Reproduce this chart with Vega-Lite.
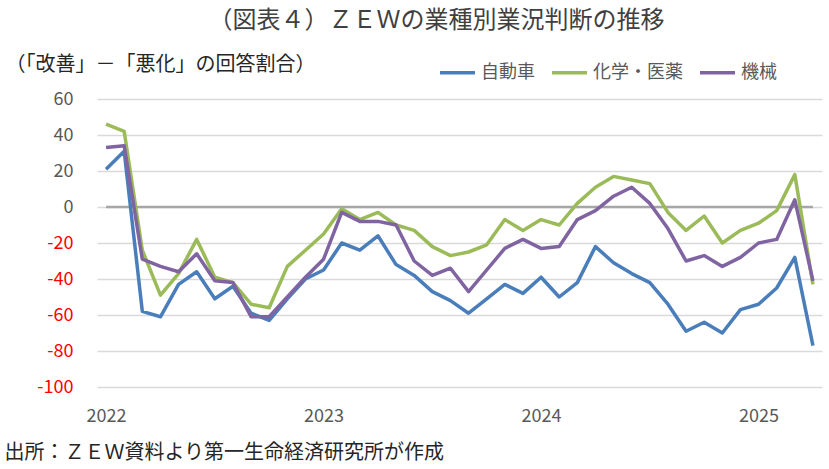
{
  "$schema": "https://vega.github.io/schema/vega-lite/v6.json",
  "width": 725,
  "height": 288,
  "autosize": {"type": "none"},
  "padding": {"left": 97, "top": 99, "right": 7, "bottom": 82},
  "background": "white",
  "config": {"font": "Noto Sans CJK JP", "view": {"stroke": null}},
  "title": {
    "text": "（図表４）ＺＥＷの業種別業況判断の推移",
    "anchor": "middle",
    "dx": -23,
    "offset": 20,
    "fontSize": 24,
    "fontWeight": "normal",
    "color": "#404040"
  },
  "encoding": {
    "x": {
      "field": "m",
      "type": "ordinal",
      "sort": "ascending",
      "scale": {"type": "point", "padding": 0.5},
      "axis": {
        "title": "出所：ＺＥＷ資料より第一生命経済研究所が作成",
        "titleX": -93,
        "titleY": 65,
        "titleAlign": "left",
        "titleAnchor": null,
        "titleBaseline": "middle",
        "titleFontSize": 20,
        "titleFontWeight": "normal",
        "titleColor": "#262626",
        "labelExpr": "substring(datum.value, 5, 7) == '01' ? substring(datum.value, 0, 4) : ''",
        "labelAngle": 0,
        "labelOverlap": false,
        "labelFlush": false,
        "labelFontSize": 18,
        "labelColor": "#595959",
        "labelPadding": 20,
        "ticks": false,
        "domain": false,
        "grid": false
      }
    },
    "y": {
      "field": "value",
      "type": "quantitative",
      "scale": {"domain": [-100, 60], "nice": false},
      "axis": {
        "values": [-100, -80, -60, -40, -20, 0, 20, 40, 60],
        "labelExpr": "datum.value < 0 ? '-' + abs(datum.value) : '' + datum.value",
        "labelOverlap": false,
        "labelFlush": false,
        "title": "（「改善」－「悪化」の回答割合）",
        "titleAngle": 0,
        "titleX": -92,
        "titleY": -35,
        "titleAlign": "left",
        "titleAnchor": null,
        "titleBaseline": "middle",
        "titleFontSize": 20,
        "titleFontWeight": "normal",
        "titleColor": "#262626",
        "labelFontSize": 18,
        "labelColor": {"condition": {"test": "datum.value < 0", "value": "#ff0000"}, "value": "#595959"},
        "labelPadding": 24,
        "ticks": false,
        "domain": false,
        "gridColor": "#d9d9d9",
        "gridWidth": 1.5
      }
    }
  },
  "layer": [
    {
      "data": {"values": [{"m": "2022-01", "value": 0}, {"m": "2025-04", "value": 0}]},
      "mark": {"type": "line", "color": "#a6a6a6", "strokeWidth": 2.5}
    },
    {
      "data": {
        "values": [
          {"m": "2022-01", "自動車": 21, "化学・医薬": 46, "機械": 33},
          {"m": "2022-02", "自動車": 31, "化学・医薬": 42, "機械": 34},
          {"m": "2022-03", "自動車": -58, "化学・医薬": -24, "機械": -29},
          {"m": "2022-04", "自動車": -61, "化学・医薬": -49, "機械": -33},
          {"m": "2022-05", "自動車": -43, "化学・医薬": -37, "機械": -36},
          {"m": "2022-06", "自動車": -36, "化学・医薬": -18, "機械": -26},
          {"m": "2022-07", "自動車": -51, "化学・医薬": -39, "機械": -41},
          {"m": "2022-08", "自動車": -44, "化学・医薬": -42, "機械": -42},
          {"m": "2022-09", "自動車": -59, "化学・医薬": -54, "機械": -61},
          {"m": "2022-10", "自動車": -63, "化学・医薬": -56, "機械": -61},
          {"m": "2022-11", "自動車": -51, "化学・医薬": -33, "機械": -50},
          {"m": "2022-12", "自動車": -40, "化学・医薬": -24, "機械": -39},
          {"m": "2023-01", "自動車": -35, "化学・医薬": -15, "機械": -29},
          {"m": "2023-02", "自動車": -20, "化学・医薬": -1, "機械": -3},
          {"m": "2023-03", "自動車": -24, "化学・医薬": -7, "機械": -8},
          {"m": "2023-04", "自動車": -16, "化学・医薬": -3, "機械": -8},
          {"m": "2023-05", "自動車": -32, "化学・医薬": -10, "機械": -10},
          {"m": "2023-06", "自動車": -38, "化学・医薬": -13, "機械": -30},
          {"m": "2023-07", "自動車": -47, "化学・医薬": -22, "機械": -38},
          {"m": "2023-08", "自動車": -52, "化学・医薬": -27, "機械": -34},
          {"m": "2023-09", "自動車": -59, "化学・医薬": -25, "機械": -47},
          {"m": "2023-10", "自動車": -51, "化学・医薬": -21, "機械": -35},
          {"m": "2023-11", "自動車": -43, "化学・医薬": -7, "機械": -23},
          {"m": "2023-12", "自動車": -48, "化学・医薬": -13, "機械": -18},
          {"m": "2024-01", "自動車": -39, "化学・医薬": -7, "機械": -23},
          {"m": "2024-02", "自動車": -50, "化学・医薬": -10, "機械": -22},
          {"m": "2024-03", "自動車": -42, "化学・医薬": 2, "機械": -7},
          {"m": "2024-04", "自動車": -22, "化学・医薬": 11, "機械": -2},
          {"m": "2024-05", "自動車": -31, "化学・医薬": 17, "機械": 6},
          {"m": "2024-06", "自動車": -37, "化学・医薬": 15, "機械": 11},
          {"m": "2024-07", "自動車": -42, "化学・医薬": 13, "機械": 2},
          {"m": "2024-08", "自動車": -54, "化学・医薬": -3, "機械": -12},
          {"m": "2024-09", "自動車": -69, "化学・医薬": -13, "機械": -30},
          {"m": "2024-10", "自動車": -64, "化学・医薬": -5, "機械": -27},
          {"m": "2024-11", "自動車": -70, "化学・医薬": -20, "機械": -33},
          {"m": "2024-12", "自動車": -57, "化学・医薬": -13, "機械": -28},
          {"m": "2025-01", "自動車": -54, "化学・医薬": -9, "機械": -20},
          {"m": "2025-02", "自動車": -45, "化学・医薬": -2, "機械": -18},
          {"m": "2025-03", "自動車": -28, "化学・医薬": 18, "機械": 4},
          {"m": "2025-04", "自動車": -77, "化学・医薬": -43, "機械": -41}
        ]
      },
      "transform": [{"fold": ["自動車", "化学・医薬", "機械"], "as": ["series", "value"]}],
      "mark": {"type": "line", "strokeWidth": 3.5, "strokeJoin": "round"},
      "encoding": {
        "color": {
          "field": "series",
          "type": "nominal",
          "scale": {"domain": ["自動車", "化学・医薬", "機械"], "range": ["#4a7ebb", "#9bbb59", "#8064a2"]},
          "legend": {
            "title": null,
            "orient": "none",
            "direction": "horizontal",
            "legendX": 341,
            "legendY": -46,
            "symbolType": "stroke",
            "symbolSize": 1225,
            "symbolStrokeWidth": 3.5,
            "labelFontSize": 18,
            "labelColor": "#595959",
            "labelOffset": 4,
            "columnPadding": 10
          }
        }
      }
    }
  ]
}
